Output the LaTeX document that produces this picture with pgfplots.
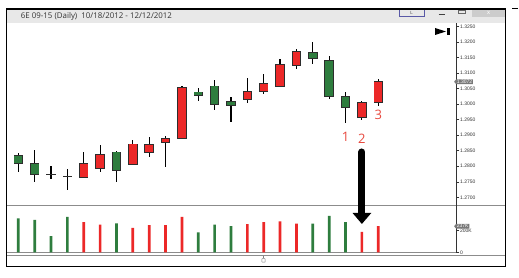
\documentclass[border=0pt]{standalone}
\usepackage{pgfplots}
\pgfplotsset{compat=1.18}
\usepackage{pgfplotstable}
\usepackage{fontspec}
\setmainfont{Liberation Sans}
\newfontfamily\titlefont{Open Sans}
\usetikzlibrary{arrows.meta,shapes.symbols}
\definecolor{cgreen}{RGB}{46,125,62}
\definecolor{cred}{RGB}{236,40,40}
\definecolor{cout}{RGB}{45,45,45}
\definecolor{lblred}{RGB}{232,72,62}
\definecolor{tagc}{RGB}{120,120,120}

% candles: x open high low close
\pgfplotstableread{
x o h l c
1 1.28339 1.28417 1.27805 1.28104
2 1.28082 1.28533 1.27502 1.27740
3 1.27740 1.28017 1.27589 1.27740
4 1.27676 1.27911 1.27225 1.27676
7 1.28449 1.28481 1.27502 1.27889
12 1.30381 1.30519 1.30100 1.30284
13 1.30574 1.30777 1.29811 1.29994
14 1.30059 1.30220 1.29434 1.29962
19 1.31646 1.31990 1.31292 1.31475
20 1.31388 1.31549 1.30155 1.30271
21 1.30229 1.30381 1.29402 1.29907
}\greentab
\pgfplotstableread{
x o h l c
5 1.27654 1.28468 1.27654 1.28082
6 1.27953 1.28684 1.27805 1.28362
8 1.28062 1.28845 1.28040 1.28706
9 1.28468 1.28932 1.28288 1.28684
10 1.28780 1.28983 1.27985 1.28887
11 1.28900 1.30593 1.28900 1.30529
15 1.30155 1.30831 1.30046 1.30400
16 1.30432 1.30970 1.30326 1.30648
17 1.30593 1.31453 1.30542 1.31259
18 1.31259 1.31775 1.31131 1.31688
22 1.29595 1.30100 1.29489 1.30036
23 1.30059 1.30809 1.29939 1.30720
}\redtab
% volume in thousands
\pgfplotstableread{
x v
1 309
2 294
3 148
4 321
7 264
12 182
13 251
14 239
19 260
20 330
21 275
}\volgreen
\pgfplotstableread{
x v
5 275
6 251
8 221
9 248
10 248
11 321
15 257
16 275
17 282
18 260
22 185
23 237
}\volred

\pgfplotsset{
  candlebar/.style n args={2}{draw=none, no markers,
    error bars/.cd, y dir=both, y explicit, error mark=none,
    error bar style={line width=#1, draw=#2}},
}

\begin{document}
\begin{tikzpicture}[x=1pt,y=1pt]
\useasboundingbox (0,0) rectangle (519,278);
\fill[white] (0,0) rectangle (519,278);
% title bar
\fill[black!9] (6.7,255.3) rectangle (505.7,269);
\fill[black!20] (472,261.3) rectangle (505.7,269);
\node[anchor=base west, inner sep=0pt, text=black!80, font=\titlefont\fontsize{7.9}{8}\selectfont] at (20.7,259.8) {6E 09-15 (Daily)\ \ 10/18/2012 - 12/12/2012};
\draw[blue!30!gray, line width=0.5] (399,261.5) rectangle (424,269);
\node[font=\fontsize{4.5}{5}\selectfont, text=black!70] at (411.5,265.2) {L};
\draw[black!75, line width=0.8] (438.5,263.5) -- (444.5,263.5);
\draw[black!60, line width=0.6] (458,264.5) rectangle (465,267.3);
\node[font=\fontsize{6}{6}\selectfont, text=white] at (488.5,265.4) {x};
% end-of-chart icon
\fill[black] (435,250) -- (435,243) -- (446,246.5) -- cycle;
\fill[black] (447.3,243) rectangle (449.8,250);
% panel lines
\draw[black!45, line width=0.6] (6.7,72.3) -- (505.7,72.3);
\draw[black!45, line width=0.6] (6.7,25.7) -- (456.3,25.7);
\draw[black!45, line width=0.6] (6.7,22.3) -- (505.7,22.3);
\draw[black!50, line width=0.5] (263.5,22.3) -- (263.5,19.5);
\draw[black!50, line width=0.5, rounded corners=0.5] (261.8,15.8) rectangle (265.2,19.3);

\begin{axis}[
  at={(6.7pt,72.3pt)}, anchor=south west, scale only axis,
  width=449.6pt, height=183pt,
  xmin=0.291, xmax=27.77, ymin=1.267296, ymax=1.326214,
  axis x line=none, axis y line=right,
  y axis line style={-, draw=black!80, line width=0.5pt},
  ytick={1.27,1.275,1.28,1.285,1.29,1.295,1.3,1.305,1.31,1.315,1.32,1.325},
  tick align=outside, major tick length=3pt,
  ytick style={draw=black!80, line width=0.5pt},
  yticklabel style={font=\fontsize{5}{6}\selectfont, text=black!80, inner sep=0.6pt,
    /pgf/number format/.cd, fixed, fixed zerofill, precision=4, assume math mode=true},
  clip mode=individual,
]
% wicks
\addplot[candlebar={1.2pt}{black}] table[x=x, y expr={(\thisrow{h}+\thisrow{l})/2}, y error expr={(\thisrow{h}-\thisrow{l})/2}] {\greentab};
\addplot[candlebar={1.2pt}{black}] table[x=x, y expr={(\thisrow{h}+\thisrow{l})/2}, y error expr={(\thisrow{h}-\thisrow{l})/2}] {\redtab};
% body outlines
\addplot[candlebar={9.5pt}{cout}] table[x=x, y expr={(\thisrow{o}+\thisrow{c})/2}, y error expr={abs(\thisrow{c}-\thisrow{o})/2+0.00026}] {\greentab};
\addplot[candlebar={9.5pt}{cout}] table[x=x, y expr={(\thisrow{o}+\thisrow{c})/2}, y error expr={abs(\thisrow{c}-\thisrow{o})/2+0.00026}] {\redtab};
% body fills
\addplot[candlebar={7.7pt}{cgreen}] table[x=x, y expr={(\thisrow{o}+\thisrow{c})/2}, y error expr={abs(\thisrow{c}-\thisrow{o})/2}] {\greentab};
\addplot[candlebar={7.7pt}{cred}] table[x=x, y expr={(\thisrow{o}+\thisrow{c})/2}, y error expr={abs(\thisrow{c}-\thisrow{o})/2}] {\redtab};
% annotations
\node[text=lblred, font=\titlefont\fontsize{13}{13}\selectfont] at (axis cs:21,1.28951) {1};
\node[text=lblred, font=\titlefont\fontsize{13}{13}\selectfont] at (axis cs:22,1.28877) {2};
\node[text=lblred, font=\titlefont\fontsize{13}{13}\selectfont] at (axis cs:23,1.29650) {3};
\node[shape=signal, signal to=west, signal pointer angle=100, fill=tagc, text=white,
  font=\fontsize{5}{5}\selectfont, inner sep=0.7pt, anchor=west] at (axis cs:27.62,1.3072) {1.3072};
\end{axis}

\begin{axis}[
  at={(6.7pt,25.7pt)}, anchor=south west, scale only axis,
  width=449.6pt, height=46.6pt,
  xmin=0.291, xmax=27.77, ymin=0, ymax=423.6,
  axis x line=none, axis y line=right,
  y axis line style={-, draw=black!80, line width=0.5pt},
  ytick={0,200}, yticklabels={0,200K},
  tick align=outside, major tick length=3pt,
  ytick style={draw=black!80, line width=0.5pt},
  yticklabel style={font=\fontsize{5}{6}\selectfont, text=black!80, inner sep=0.6pt},
  clip mode=individual,
]
\addplot[ybar, bar width=2.7pt, bar shift=0pt, fill=cgreen, draw=none] table[x=x, y=v] {\volgreen};
\addplot[ybar, bar width=2.7pt, bar shift=0pt, fill=cred, draw=none] table[x=x, y=v] {\volred};
\node[shape=signal, signal to=west, signal pointer angle=100, fill=tagc, text=white,
  font=\fontsize{5}{5}\selectfont, inner sep=0.7pt, anchor=west] at (axis cs:27.62,237) {237K};
\end{axis}

% arrow pointing at candle 2
\draw[line width=7pt, line cap=round, -{Triangle[width=18pt,length=11pt]}] (361.9,126) -- (361.9,54);
% window frame
\draw[black, line width=1.3] (6.7,11.3) rectangle (505.7,269);
\draw[black, line width=1] (512,269) -- (518,269);
\end{tikzpicture}
\end{document}
